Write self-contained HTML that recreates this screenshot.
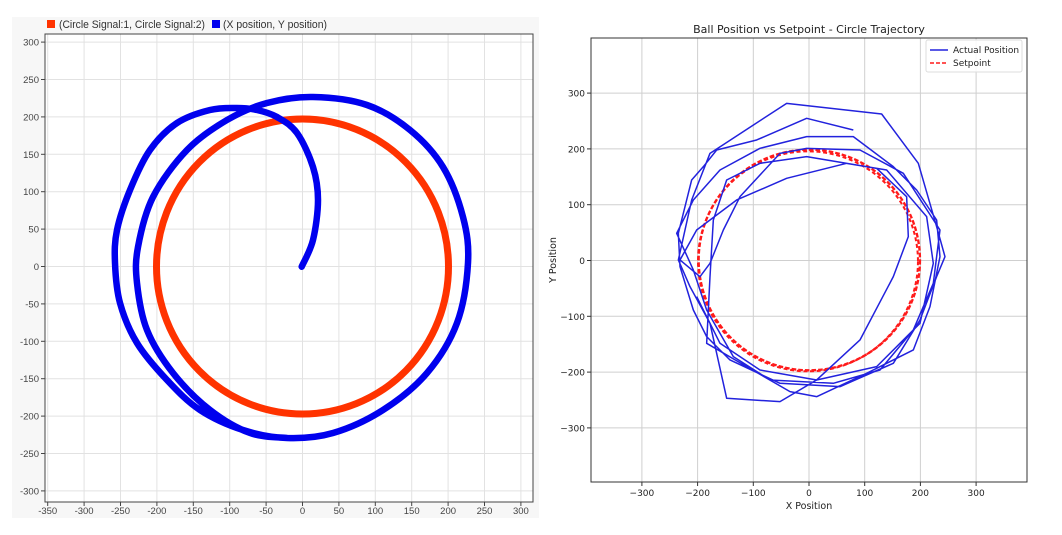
<!DOCTYPE html>
<html><head><meta charset="utf-8"><style>
html,body{margin:0;padding:0;background:#fff;width:1062px;height:535px;overflow:hidden}
svg{display:block}
</style></head><body>
<svg id="s" width="1062" height="535" xmlns="http://www.w3.org/2000/svg">
<rect x="12" y="17" width="527" height="501" fill="#f7f7f7"/>
<rect x="45" y="34" width="488" height="468" fill="#fff"/>
<g id="lg"></g>
<g id="rg"></g>
<rect x="45" y="34" width="488" height="468" fill="none" stroke="#444" stroke-width="1"/>
<ellipse cx="302.5" cy="266.5" rx="146" ry="147.5" fill="none" stroke="#ff3300" stroke-width="7"/>
<path id="blue" fill="none" stroke="#0000ee" stroke-width="6.5" stroke-linecap="round" stroke-linejoin="round"/>
<rect x="47" y="20" width="8" height="8" fill="#ff3300"/>
<text x="59" y="28" font-family="Liberation Sans, sans-serif" font-size="11" fill="#333" textLength="146" lengthAdjust="spacingAndGlyphs">(Circle Signal:1, Circle Signal:2)</text>
<rect x="212" y="20" width="8" height="8" fill="#0000ee"/>
<text x="223" y="28" font-family="Liberation Sans, sans-serif" font-size="11" fill="#333" textLength="104" lengthAdjust="spacingAndGlyphs">(X position, Y position)</text>

<text x="809" y="33" text-anchor="middle" font-family="DejaVu Sans, sans-serif" font-size="11" fill="#222">Ball Position vs Setpoint - Circle Trajectory</text>
<g transform="translate(660,90) scale(0.3333)">
<ellipse cx="448" cy="510" rx="332" ry="331" fill="none" stroke="#ff1a1a" stroke-width="7" stroke-dasharray="14,6"/>
<ellipse cx="444" cy="514" rx="330" ry="330" fill="none" stroke="#ff1a1a" stroke-width="6" stroke-dasharray="12,8"/>
<polyline fill="none" stroke="#2222dd" stroke-width="4.5" stroke-linejoin="round" points="580,120 440,85 290,150 170,180 130,230 95,270 55,430 60,530 100,660 140,740 210,810 360,880 540,890 700,820 780,690 830,560 855,500 830,410 775,220 665,72 380,40 150,190 95,330 55,510 90,590 150,700 200,925 360,935 470,870 600,750 700,560 745,440 740,320 650,235 440,200 300,220 200,270 160,390 150,560 140,760 260,830 390,905 470,920 620,850 760,780 810,650 840,500 830,390 770,300 700,230 580,140 440,140 300,175 180,240 100,330 50,430 100,540 140,660 220,800 330,870 520,880 660,840 760,720 820,580 840,420 730,250 600,180 440,175 360,190 240,320 190,420 150,520 120,560 60,510 110,420 230,330 380,265 560,220 680,240 800,380 820,520 780,700 650,830 470,870 300,840 180,760 110,620"/>
</g>
<rect x="591" y="38" width="436" height="444" fill="none" stroke="#333" stroke-width="1"/>
<rect x="926" y="40" width="96" height="32" fill="#fff" fill-opacity="0.85" stroke="#ddd" rx="2"/>
<line x1="930" y1="50" x2="948" y2="50" stroke="#2222dd" stroke-width="1.5"/>
<text x="953" y="53" font-family="DejaVu Sans, sans-serif" font-size="9" fill="#222">Actual Position</text>
<line x1="930" y1="63" x2="948" y2="63" stroke="#ff1a1a" stroke-width="1.5" stroke-dasharray="4,2"/>
<text x="953" y="66" font-family="DejaVu Sans, sans-serif" font-size="9" fill="#222">Setpoint</text>
<text x="809" y="509" text-anchor="middle" font-family="DejaVu Sans, sans-serif" font-size="9.5" fill="#222">X Position</text>
<text transform="translate(556,260) rotate(-90)" text-anchor="middle" font-family="DejaVu Sans, sans-serif" font-size="9.5" fill="#222">Y Position</text>
</svg>
<script>
var NS="http://www.w3.org/2000/svg";
function el(p,t,a,txt){var e=document.createElementNS(NS,t);for(var k in a)e.setAttribute(k,a[k]);if(txt!=null)e.textContent=txt;p.appendChild(e);return e;}
var lg=document.getElementById('lg'),rg=document.getElementById('rg');
for(var v=-350;v<=300;v+=50){var x=302.5+v*0.728;
 el(lg,'line',{x1:x,y1:34,x2:x,y2:502,stroke:'#e2e2e2','stroke-width':1});
 el(lg,'line',{x1:x,y1:502,x2:x,y2:506,stroke:'#444'});
 el(lg,'text',{x:x,y:514,'text-anchor':'middle','font-family':'Liberation Sans, sans-serif','font-size':'9.5',fill:'#444'},String(v));}
for(var v=-300;v<=300;v+=50){var y=266.5-v*0.748;
 el(lg,'line',{x1:45,y1:y,x2:533,y2:y,stroke:'#e2e2e2','stroke-width':1});
 el(lg,'line',{x1:41,y1:y,x2:45,y2:y,stroke:'#444'});
 el(lg,'text',{x:39,y:y+3.5,'text-anchor':'end','font-family':'Liberation Sans, sans-serif','font-size':'9.5',fill:'#444'},String(v));}
for(var v=-300;v<=300;v+=100){var x=809+v*0.557;
 el(rg,'line',{x1:x,y1:38,x2:x,y2:482,stroke:'#cfcfcf','stroke-width':1});
 el(rg,'line',{x1:x,y1:482,x2:x,y2:486,stroke:'#333'});
 el(rg,'text',{x:x,y:496,'text-anchor':'middle','font-family':'DejaVu Sans, sans-serif','font-size':'9',fill:'#222'},(v<0?'\u2212'+(-v):String(v)));
 var y=260.5-v*0.558;
 el(rg,'line',{x1:591,y1:y,x2:1027,y2:y,stroke:'#cfcfcf','stroke-width':1});
 el(rg,'line',{x1:587,y1:y,x2:591,y2:y,stroke:'#333'});
 el(rg,'text',{x:585,y:y+3.5,'text-anchor':'end','font-family':'DejaVu Sans, sans-serif','font-size':'9',fill:'#222'},(v<0?'\u2212'+(-v):String(v)));}
var P=[[301.7,266.7],[313,240],[318,200],[313,167],[297,133],[277,117],[257,110],[237,108],[210,110],[177,123],[150,150],[130,190],[117,230],[115,263],[120,303],[137,343],[167,380],[200,410],[243,430],[287,438],[333,433],[383,410],[427,373],[457,323],[468,263],[463,217],[443,167],[410,130],[367,105],[313,97],[267,103],[227,120],[187,150],[153,197],[138,247],[137,283],[147,330],[173,373],[210,410],[250,433],[287,438]];
var d='M'+P[0][0]+','+P[0][1];
for(var i=0;i<P.length-1;i++){var p0=P[Math.max(0,i-1)],p1=P[i],p2=P[i+1],p3=P[Math.min(P.length-1,i+2)];
 d+=' C'+(p1[0]+(p2[0]-p0[0])/6)+','+(p1[1]+(p2[1]-p0[1])/6)+' '+(p2[0]-(p3[0]-p1[0])/6)+','+(p2[1]-(p3[1]-p1[1])/6)+' '+p2[0]+','+p2[1];}
document.getElementById('blue').setAttribute('d',d);
</script>
</body></html>
